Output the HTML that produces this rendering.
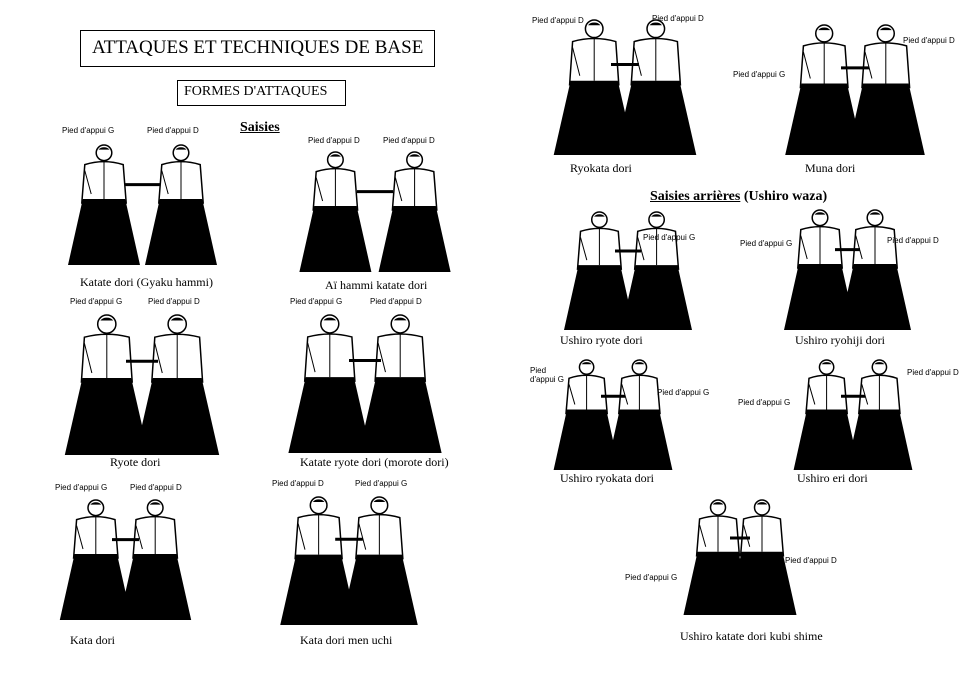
<!DOCTYPE html>
<html><head><meta charset="utf-8"><style>
body{margin:0;background:#fff;width:970px;height:698px;position:relative;overflow:hidden;font-family:"Liberation Serif",serif;color:#000}
.t{position:absolute;white-space:nowrap}
.p{font-family:"Liberation Sans",sans-serif;font-size:8px}
.c{font-size:12px}
.box{position:absolute;border:1px solid #000}
svg{position:absolute;left:0;top:0}
</style></head><body>
<svg id="s" width="970" height="698"></svg>
<div class="box" style="left:80px;top:30px;width:353px;height:35px"></div>
<div class="t" style="left:92px;top:37px;font-size:19px">ATTAQUES ET TECHNIQUES DE BASE</div>
<div class="box" style="left:177px;top:80px;width:167px;height:24px"></div>
<div class="t" style="left:184px;top:84px;font-size:14px">FORMES D'ATTAQUES</div>
<div class="t" style="left:240px;top:120px;font-size:14px;font-weight:bold;text-decoration:underline">Saisies</div>

<div class="t p" style="left:62px;top:126px">Pied d'appui G</div>
<div class="t p" style="left:147px;top:126px">Pied d'appui D</div>
<div class="t p" style="left:308px;top:136px">Pied d'appui D</div>
<div class="t p" style="left:383px;top:136px">Pied d'appui D</div>
<div class="t c" style="left:80px;top:275px">Katate dori (Gyaku hammi)</div>
<div class="t c" style="left:325px;top:278px">Aï hammi katate dori</div>
<div class="t p" style="left:70px;top:297px">Pied d'appui G</div>
<div class="t p" style="left:148px;top:297px">Pied d'appui D</div>
<div class="t p" style="left:290px;top:297px">Pied d'appui G</div>
<div class="t p" style="left:370px;top:297px">Pied d'appui D</div>
<div class="t c" style="left:110px;top:455px">Ryote dori</div>
<div class="t c" style="left:300px;top:455px">Katate ryote dori (morote dori)</div>
<div class="t p" style="left:55px;top:483px">Pied d'appui G</div>
<div class="t p" style="left:130px;top:483px">Pied d'appui D</div>
<div class="t p" style="left:272px;top:479px">Pied d'appui D</div>
<div class="t p" style="left:355px;top:479px">Pied d'appui G</div>
<div class="t c" style="left:70px;top:633px">Kata dori</div>
<div class="t c" style="left:300px;top:633px">Kata dori men uchi</div>

<div class="t p" style="left:532px;top:16px">Pied d'appui D</div>
<div class="t p" style="left:652px;top:14px">Pied d'appui D</div>
<div class="t p" style="left:903px;top:36px">Pied d'appui D</div>
<div class="t p" style="left:733px;top:70px">Pied d'appui G</div>
<div class="t c" style="left:570px;top:161px">Ryokata dori</div>
<div class="t c" style="left:805px;top:161px">Muna dori</div>
<div class="t" style="left:650px;top:189px;font-size:14px;font-weight:bold"><u>Saisies arrières</u> (Ushiro waza)</div>
<div class="t p" style="left:643px;top:233px">Pied d'appui G</div>
<div class="t p" style="left:740px;top:239px">Pied d'appui G</div>
<div class="t p" style="left:887px;top:236px">Pied d'appui D</div>
<div class="t c" style="left:560px;top:333px">Ushiro ryote dori</div>
<div class="t c" style="left:795px;top:333px">Ushiro ryohiji dori</div>
<div class="t p" style="left:530px;top:366px">Pied<br>d'appui G</div>
<div class="t p" style="left:657px;top:388px">Pied d'appui G</div>
<div class="t p" style="left:738px;top:398px">Pied d'appui G</div>
<div class="t p" style="left:907px;top:368px">Pied d'appui D</div>
<div class="t c" style="left:560px;top:471px">Ushiro ryokata dori</div>
<div class="t c" style="left:797px;top:471px">Ushiro eri dori</div>
<div class="t p" style="left:625px;top:573px">Pied d'appui G</div>
<div class="t p" style="left:785px;top:556px">Pied d'appui D</div>
<div class="t c" style="left:680px;top:629px">Ushiro katate dori kubi shime</div>
<script>
var s=document.getElementById('s'),h='';
function person(cx,top,H,sp){
 var r=H*0.065,ty=top+2*r,tw=H*0.32,hy=top+H*0.45,bw=H*(sp||0.6);
 h+='<circle cx="'+cx+'" cy="'+(top+r)+'" r="'+r+'" fill="#fff" stroke="#000" stroke-width="1.5"/>';
 h+='<path d="M'+(cx-r*0.7)+' '+(top+r*0.6)+'a'+r*0.8+' '+r*0.6+' 0 0 1 '+r*1.4+' 0z" fill="#000"/>';
 h+='<path d="M'+(cx-tw/2)+' '+(ty+4)+'Q'+cx+' '+(ty-2)+' '+(cx+tw/2)+' '+(ty+4)+'L'+(cx+tw/2+3)+' '+(hy+4)+'L'+(cx-tw/2-3)+' '+(hy+4)+'z" fill="#fff" stroke="#000" stroke-width="1.5"/>';
 h+='<path d="M'+cx+' '+ty+'L'+cx+' '+hy+'M'+(cx-tw/2)+' '+(ty+10)+'L'+(cx-tw/3)+' '+(hy-5)+'" stroke="#000" fill="none"/>';
 h+='<path d="M'+(cx-tw/2-2)+' '+hy+'L'+(cx+tw/2+2)+' '+hy+'L'+(cx+bw/2)+' '+(top+H)+'L'+(cx-bw/2)+' '+(top+H)+'z" fill="#000"/>';
}
function pair(x,y,w,H){
 person(x+w*0.28,y,H);person(x+w*0.72,y,H);
 h+='<path d="M'+(x+w*0.4)+' '+(y+H*0.33)+'L'+(x+w*0.6)+' '+(y+H*0.33)+'" stroke="#000" stroke-width="3"/>';
}
pair(55,145,175,120);pair(285,152,180,120);pair(62,315,160,140);pair(285,315,160,138);
pair(58,500,135,120);pair(280,497,138,128);
pair(555,20,140,135);pair(785,25,140,130);pair(563,212,130,118);pair(785,210,125,120);
pair(553,360,120,110);pair(793,360,120,110);pair(690,500,100,115);
s.innerHTML=h;
</script>
</body></html>
